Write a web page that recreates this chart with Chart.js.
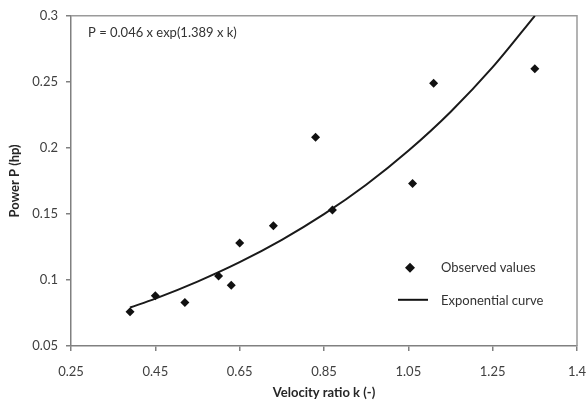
<!DOCTYPE html>
<html>
<head>
<meta charset="utf-8">
<script src="https://cdn.jsdelivr.net/npm/chart.js@4"></script>
<style>
  html, body { margin: 0; padding: 0; background: #fff; }
  #wrap { width: 587px; height: 406px; }
</style>
</head>
<body>
<div id="wrap"><canvas id="myChart" width="587" height="406"></canvas></div>
<script>
var obsK = [0.39, 0.45, 0.52, 0.60, 0.63, 0.65, 0.73, 0.83, 0.87, 1.06, 1.11, 1.35];
var obsP = [0.076, 0.088, 0.083, 0.103, 0.096, 0.128, 0.141, 0.208, 0.153, 0.173, 0.249, 0.260];

// points along the fitted curve
var curveK = [0.39, 0.45, 0.55, 0.65, 0.75, 0.85, 0.95, 1.05, 1.15, 1.25, 1.35];
var curveP = [0.0791, 0.0859, 0.0988, 0.1135, 0.1304, 0.1498, 0.1721, 0.1978, 0.2272, 0.2611, 0.300];

var xTicks = [0.25, 0.45, 0.65, 0.85, 1.05, 1.25, 1.45];
var xTickLabels = ['0.25', '0.45', '0.65', '0.85', '1.05', '1.25', '1.4'];
var yTicks = [0.05, 0.1, 0.15, 0.2, 0.25, 0.3];
var yTickLabels = ['0.05', '0.1', '0.15', '0.2', '0.25', '0.3'];

var fontName = 'Lato, "Open Sans", sans-serif';

var obsData = obsK.map(function (k, i) { return { x: k, y: obsP[i] }; });
var curveData = curveK.map(function (k, i) { return { x: k, y: curveP[i] }; });

// plot frame, formula and in-plot legend
var extras = {
    id: 'extras',
    beforeDatasetsDraw: function (chart) {
        var a = chart.chartArea;
        var c = chart.ctx;
        c.save();
        c.strokeStyle = '#9a9a9a';
        c.lineWidth = 1.5;
        c.beginPath();
        c.moveTo(a.left, a.top);
        c.lineTo(a.right, a.top);
        c.lineTo(a.right, a.bottom);
        c.stroke();
        c.restore();
    },
    afterDraw: function (chart) {
        var a = chart.chartArea;
        var c = chart.ctx;
        c.save();
        c.fillStyle = '#333';
        c.font = '13px ' + fontName;
        c.textBaseline = 'middle';
        c.textAlign = 'left';
        c.fillText('P = 0.046 x exp(1.389 x k)', a.left + 17, a.top + 17);

        // legend
        var lx = a.left + 339;
        var ly = a.top + 252;
        c.fillStyle = '#111';
        c.beginPath();
        c.moveTo(lx, ly - 5);
        c.lineTo(lx + 5, ly);
        c.lineTo(lx, ly + 5);
        c.lineTo(lx - 5, ly);
        c.closePath();
        c.fill();
        c.fillStyle = '#333';
        c.fillText('Observed values', a.left + 370, ly);

        c.strokeStyle = '#111';
        c.lineWidth = 2;
        c.beginPath();
        c.moveTo(a.left + 327, ly + 32);
        c.lineTo(a.left + 357, ly + 32);
        c.stroke();
        c.fillText('Exponential curve', a.left + 370, ly + 33);
        c.restore();
    }
};

var ctx = document.getElementById('myChart').getContext('2d');
var myChart = new Chart(ctx, {
    type: 'scatter',
    data: {
        datasets: [{
            label: 'Observed values',
            data: obsData,
            pointStyle: 'rectRot',
            pointRadius: 4.5,
            backgroundColor: '#111',
            borderColor: '#111',
            borderWidth: 0
        }, {
            label: 'Exponential curve',
            data: curveData,
            showLine: true,
            tension: 0.4,
            cubicInterpolationMode: 'monotone',
            pointRadius: 0,
            borderColor: '#1a1a1a',
            borderWidth: 2,
            fill: false
        }]
    },
    options: {
        responsive: false,
        animation: false,
        layout: { padding: { top: 15, right: 0, left: 0, bottom: 0 } },
        plugins: {
            legend: { display: false },
            tooltip: { enabled: false }
        },
        scales: {
            x: {
                type: 'linear',
                min: 0.25,
                max: 1.45,
                afterBuildTicks: function (axis) {
                    axis.ticks = xTicks.map(function (v) { return { value: v }; });
                },
                afterFit: function (axis) {
                    axis.height = 60;
                    axis.paddingRight = 10;
                },
                ticks: {
                    autoSkip: false,
                    maxRotation: 0,
                    padding: 13,
                    color: '#404040',
                    font: { family: fontName, size: 13 },
                    callback: function (v, i) { return xTickLabels[i]; }
                },
                grid: {
                    drawOnChartArea: false,
                    drawTicks: true,
                    tickLength: 5,
                    color: '#808080',
                    lineWidth: 1.5
                },
                border: { color: '#808080', width: 1.5 },
                title: {
                    display: true,
                    text: 'Velocity ratio k (-)',
                    color: '#262626',
                    font: { family: fontName, size: 13, weight: 'bold' },
                    padding: { top: 0, bottom: 5 }
                }
            },
            y: {
                type: 'linear',
                min: 0.05,
                max: 0.3,
                afterBuildTicks: function (axis) {
                    axis.ticks = yTicks.map(function (v) { return { value: v }; });
                },
                afterFit: function (axis) { axis.width = 71; },
                ticks: {
                    padding: 8,
                    color: '#404040',
                    font: { family: fontName, size: 13 },
                    callback: function (v, i) { return yTickLabels[i]; }
                },
                grid: {
                    drawOnChartArea: false,
                    drawTicks: true,
                    tickLength: 5,
                    color: '#808080',
                    lineWidth: 1.5
                },
                border: { color: '#808080', width: 1.5 },
                title: {
                    display: true,
                    text: 'Power P (hp)',
                    color: '#262626',
                    font: { family: fontName, size: 13, weight: 'bold' },
                    padding: { top: 7, bottom: 0 }
                }
            }
        }
    },
    plugins: [extras]
});
</script>
</body>
</html>
